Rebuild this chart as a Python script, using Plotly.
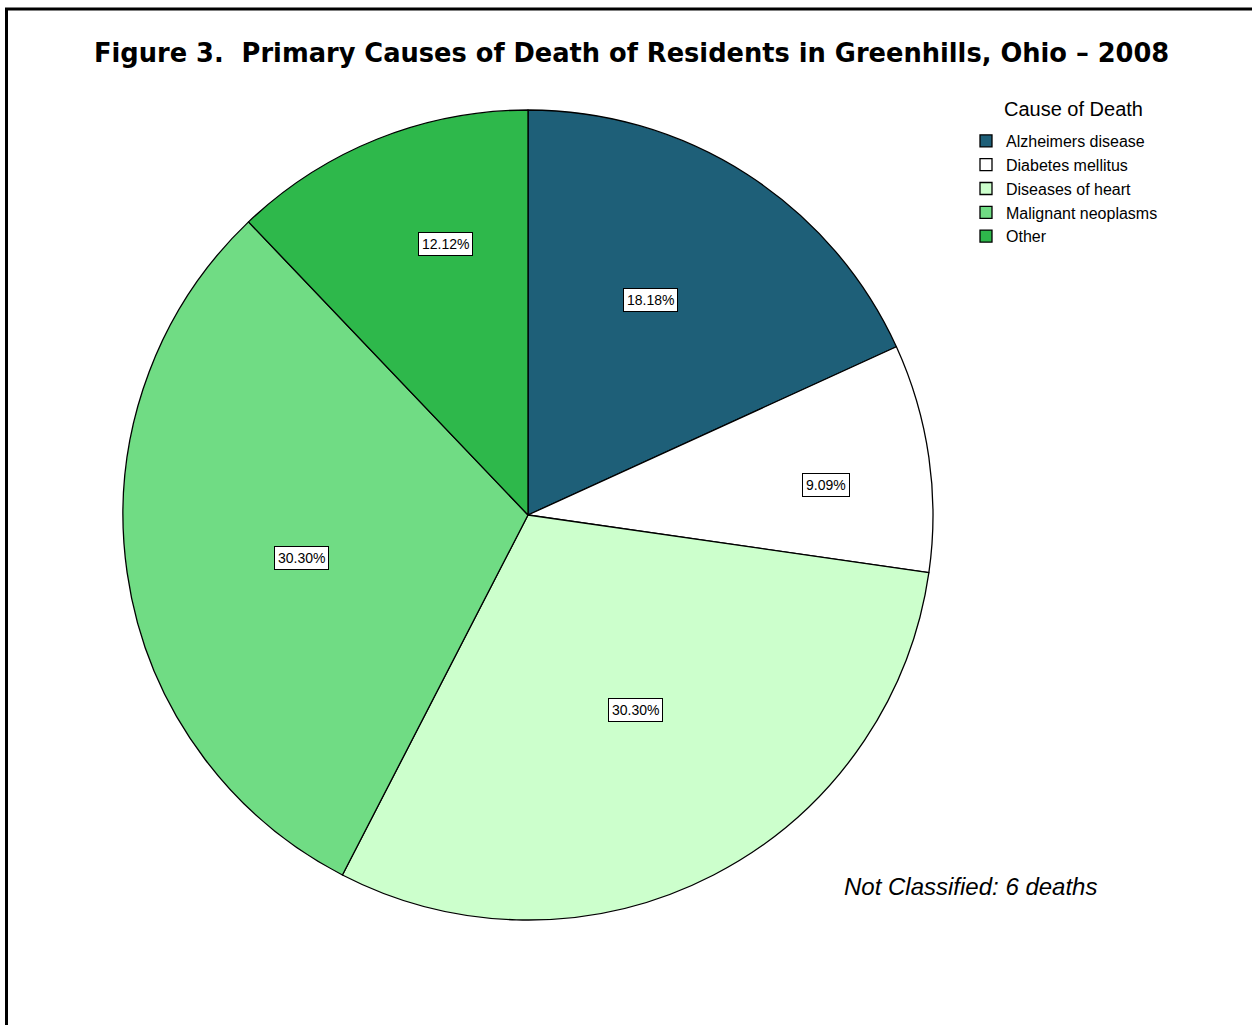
import math
import plotly.graph_objects as go

# ---- data ----
causes = ["Alzheimers disease", "Diabetes mellitus", "Diseases of heart",
          "Malignant neoplasms", "Other"]
deaths = [6, 3, 10, 10, 4]
title_text = "Figure 3.  Primary Causes of Death of Residents in Greenhills, Ohio \u2013 2008"
legend_title = "Cause of Death"
note_text = "Not Classified: 6 deaths"

# ---- style ----
colors = ["#1e5f78", "#ffffff", "#ccffcc", "#70dc84", "#2eb84b"]
label_radius = [0.61, 0.74, 0.55, 0.57, 0.70]   # fraction of pie radius for % boxes
label_angle_shift = [-3.0, 2.5, -1.6, -2.5, 4.8]  # degrees, nudge from slice mid-angle

W, H = 1252, 1025
cx, cy, R = 528, 515, 405
FONT = "Liberation Sans, Arial"

fig = go.Figure()
fig.add_trace(go.Pie(
    labels=causes, values=deaths, sort=False, direction="clockwise", rotation=0,
    marker=dict(colors=colors, line=dict(color="black", width=1.3)),
    textinfo="none", hoverinfo="label+percent",
    domain=dict(x=[(cx - R) / W, (cx + R) / W], y=[1 - (cy + R) / H, 1 - (cy - R) / H]),
    showlegend=True,
))

# percentage label boxes placed at slice mid-angles
total = sum(deaths)
cum = 0
annotations = []
for v, rf, da in zip(deaths, label_radius, label_angle_shift):
    mid = (cum + v / 2) / total * 2 * math.pi + math.radians(da)
    cum += v
    px = cx + rf * R * math.sin(mid)
    py = cy - rf * R * math.cos(mid)
    annotations.append(dict(
        x=px / W, y=1 - py / H, xref="paper", yref="paper",
        xanchor="center", yanchor="middle",
        text=f"{v / total * 100:.2f}%", showarrow=False,
        font=dict(family=FONT, size=14, color="black"),
        bgcolor="white", bordercolor="black", borderwidth=1, borderpad=3,
    ))

annotations.append(dict(
    x=631 / W, y=1 - 53 / H, xref="paper", yref="paper", text=f"<b>{title_text}</b>",
    showarrow=False, xanchor="center", yanchor="middle",
    font=dict(family="DejaVu Sans", size=25.7, color="black"),
))
annotations.append(dict(
    x=1073 / W, y=1 - 109 / H, xref="paper", yref="paper", text=legend_title,
    showarrow=False, xanchor="center", yanchor="middle",
    font=dict(family=FONT, size=20, color="black"),
))
annotations.append(dict(
    x=970 / W, y=1 - 886 / H, xref="paper", yref="paper", text=f"<i>{note_text}</i>",
    showarrow=False, xanchor="center", yanchor="middle",
    font=dict(family=FONT, size=24, color="black"),
))

fig.update_layout(
    width=W, height=H, margin=dict(l=0, r=0, t=0, b=0),
    paper_bgcolor="white", plot_bgcolor="white",
    annotations=annotations,
    legend=dict(
        font=dict(family=FONT, size=16, color="black"),
        x=966 / W, y=1 - 124 / H, xanchor="left", yanchor="top",
        bgcolor="rgba(0,0,0,0)", tracegroupgap=0, itemclick=False,
    ),
    shapes=[dict(type="rect", xref="paper", yref="paper",
                 x0=6.5 / W, x1=1.02, y0=-0.02, y1=1 - 9 / H,
                 line=dict(color="black", width=3), fillcolor="rgba(0,0,0,0)")],
)

fig.write_html("out.html", config={"displayModeBar": False},
               post_script="document.body.style.margin='0';")
